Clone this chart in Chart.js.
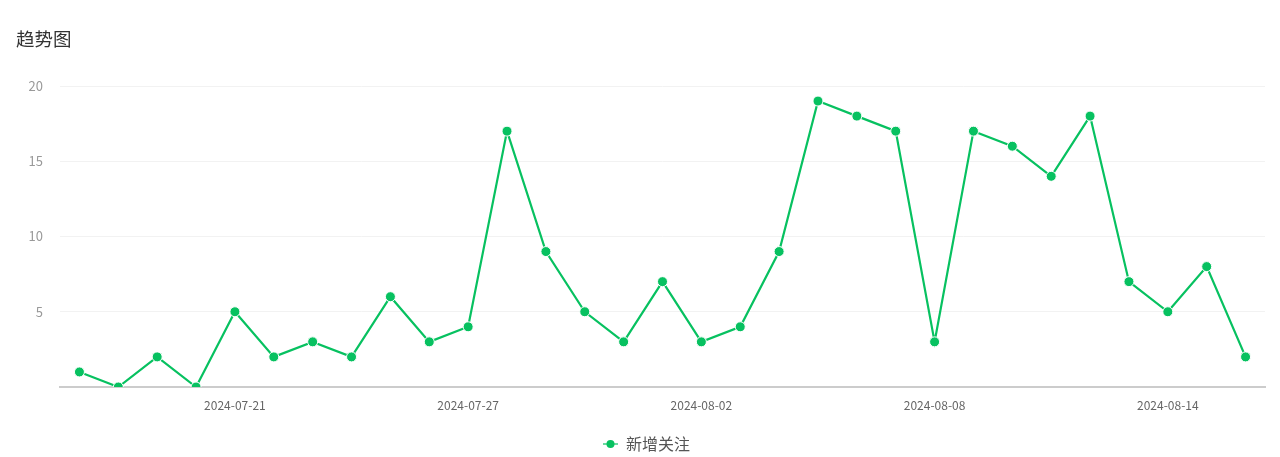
<!DOCTYPE html>
<html><head><meta charset="utf-8">
<script src="https://cdn.jsdelivr.net/npm/chart.js@4/dist/chart.umd.min.js"></script>
<style>html,body{margin:0;padding:0;background:#fff;}#wrap{width:1280px;height:457px;position:relative;}
#t{position:absolute;left:16px;top:25px;font-family:"Noto Sans CJK SC","Noto Sans",sans-serif;font-size:18.5px;color:#333;line-height:26px;}
canvas{position:absolute;left:0;top:0;}</style>
</head><body><div id="wrap"><canvas id="c" width="1280" height="457"></canvas><div id="t"></div></div>
<script>
const categories = ['2024-07-17','2024-07-18','2024-07-19','2024-07-20','2024-07-21','2024-07-22','2024-07-23','2024-07-24','2024-07-25','2024-07-26','2024-07-27','2024-07-28','2024-07-29','2024-07-30','2024-07-31','2024-08-01','2024-08-02','2024-08-03','2024-08-04','2024-08-05','2024-08-06','2024-08-07','2024-08-08','2024-08-09','2024-08-10','2024-08-11','2024-08-12','2024-08-13','2024-08-14','2024-08-15','2024-08-16'];
const followValues = [1,0,2,0,5,2,3,2,6,3,4,17,9,5,3,7,3,4,9,19,18,17,3,17,16,14,18,7,5,8,2];
const yTicks = [0,5,10,15,20];
const seriesName = '新增关注';
const titleText = '趋势图';

document.getElementById('t').textContent = titleText;

const GREEN = '#07c160';
const FONT = '"Noto Sans CJK SC", "Noto Sans", sans-serif';

const icon = document.createElement('canvas');
icon.width = 15; icon.height = 10;
(function(){
  const g = icon.getContext('2d');
  g.strokeStyle = 'rgba(7,193,96,0.6)'; g.lineWidth = 2;
  g.beginPath(); g.moveTo(0,5); g.lineTo(15,5); g.stroke();
  g.fillStyle = GREEN; g.beginPath(); g.arc(7.5,5,4,0,Math.PI*2); g.fill();
})();

new Chart(document.getElementById('c'), {
  type: 'line',
  data: {
    labels: categories,
    datasets: [{
      label: seriesName,
      data: followValues,
      borderColor: GREEN,
      backgroundColor: GREEN,
      borderWidth: 2.2,
      pointRadius: 5,
      pointBorderWidth: 1,
      pointBorderColor: '#ffffff',
      pointBackgroundColor: GREEN,
      pointStyle: 'circle',
      tension: 0,
      fill: false
    }]
  },
  options: {
    responsive: false,
    animation: false,
    layout: { padding: { left: 28, right: 15, top: 86, bottom: -5 } },
    plugins: {
      title: { display: false },
      legend: {
        position: 'bottom',
        labels: {
          color: '#555555', font: { family: FONT, size: 16 },
          usePointStyle: true, pointStyle: icon, pointStyleWidth: 15, padding: 1,
          generateLabels: (chart) => [{ text: seriesName, pointStyle: icon, fillStyle: GREEN, strokeStyle: GREEN, lineWidth: 0, datasetIndex: 0, fontColor: '#555555' }]
        }
      },
      tooltip: { enabled: false }
    },
    scales: {
      x: {
        offset: true,
        grid: { display: false, drawTicks: false },
        border: { display: true, color: '#cccccc', width: 2 },
        afterFit: (s) => { s.height = 48; },
        ticks: {
          autoSkip: false, maxRotation: 0, padding: 11,
          color: '#666666', font: { family: FONT, size: 12 },
          callback: function(v, i) { return (i % 6 === 4) ? categories[i] : ''; }
        }
      },
      y: {
        min: 0, max: 20,
        afterBuildTicks: (s) => { s.ticks = yTicks.map(v => ({ value: v })); },
        afterFit: (s) => { s.width = 32; },
        grid: { color: '#f2f2f2', lineWidth: 1, drawTicks: false },
        border: { display: false },
        ticks: {
          padding: 17, color: '#999999', font: { family: FONT, size: 13 },
          callback: (v) => v === 0 ? '' : v
        }
      }
    }
  }
});
</script></body></html>
